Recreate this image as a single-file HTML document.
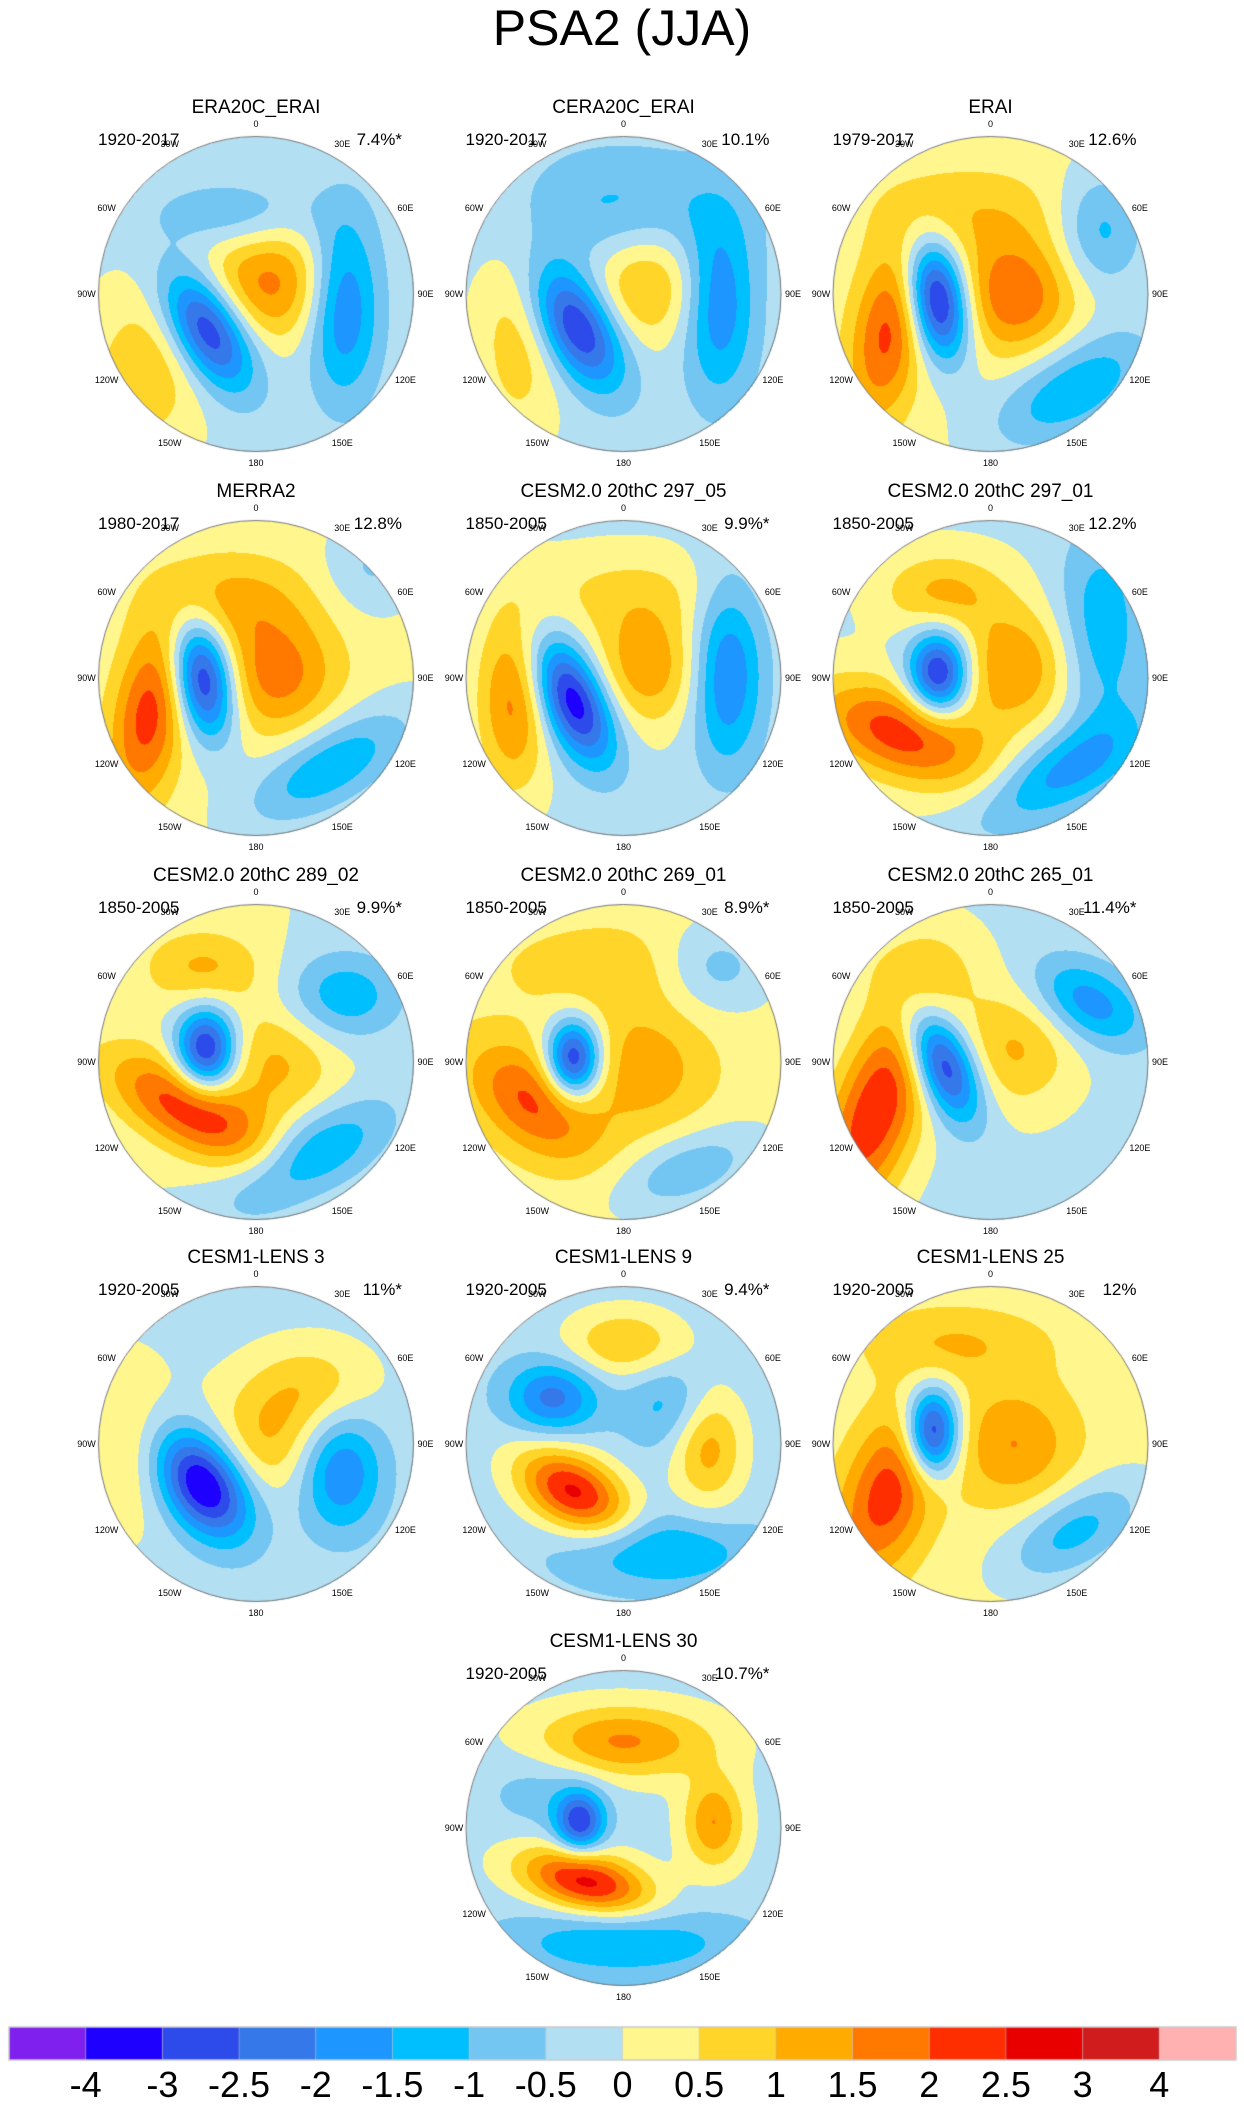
<!DOCTYPE html>
<html><head><meta charset="utf-8">
<style>
html,body{margin:0;padding:0;background:#fff;}
body{width:1244px;height:2107px;position:relative;overflow:hidden;font-family:"Liberation Sans",sans-serif;}
canvas{position:absolute;left:0;top:0;}
.t{position:absolute;white-space:nowrap;color:#000;}
</style></head>
<body>
<canvas id="cv" width="1244" height="2107"></canvas>
<div id="ov"></div>
<script>
// ---- data ----
const panelTitles=["ERA20C_ERAI","CERA20C_ERAI","ERAI","MERRA2","CESM2.0 20thC 297_05","CESM2.0 20thC 297_01","CESM2.0 20thC 289_02","CESM2.0 20thC 269_01","CESM2.0 20thC 265_01","CESM1-LENS 3","CESM1-LENS 9","CESM1-LENS 25","CESM1-LENS 30"];
const panelPeriods=["1920-2017","1920-2017","1979-2017","1980-2017","1850-2005","1850-2005","1850-2005","1850-2005","1850-2005","1920-2005","1920-2005","1920-2005","1920-2005"];
const panelPercent=["7.4%*","10.1%","12.6%","12.8%","9.9%*","12.2%","9.9%*","8.9%*","11.4%*","11%*","9.4%*","12%","10.7%*"];
const panelBase=[-0.15,-0.2,0.15,0.15,-0.15,-0.1,0,0.2,-0.15,-0.2,-0.3,0.2,-0.2];
const blobU=[[-0.32,0.13,0.55,-0.15,-0.6],[-0.3,0.14,0.6,0,-0.66],[-0.34,0.15,-0.65,-0.15,0.53,0.7],[-0.34,0.13,-0.68,-0.17,0.47,0.72],[-0.32,0.15,0.65,-0.7,0],[-0.33,0.15,-0.57,-0.31,0.7,0.45],[-0.32,0.13,-0.42,-0.34,0.55,0.34],[-0.32,0.14,-0.58,0,0.57,0.4],[-0.31,0.15,-0.73,0.62,-0.5],[-0.34,0.53,0.08,0.38,-0.85],[-0.32,-0.45,0,0.53,0.3,0.23],[-0.37,-0.65,0.15,-0.23,0.53],[-0.02,-0.28,-0.24,0.57,0,-0.5]];
const blobV=[[0.21,-0.07,0.06,-0.5,0.35],[0.2,-0.07,0.06,-0.53,0.27],[0.03,0,0.23,-0.53,0.6,-0.4],[0,-0.03,0.22,-0.5,0.56,-0.7],[0.14,-0.07,-0.03,0.13,-0.55],[-0.03,-0.07,0.35,-0.55,-0.3,0.6],[-0.08,0,0.3,-0.6,-0.42,0.6],[-0.02,0.04,0.25,-0.6,-0.6,0.68],[0,-0.08,0.3,-0.38,-0.6],[0.25,0.17,-0.04,-0.38,0],[0.3,-0.3,-0.64,0,-0.25,0.68],[-0.08,0.3,0,-0.64,0.55],[-0.55,-0.04,0.34,-0.04,0.72,-0.25]];
const blobAmp=[[-3.6,1.6,-2.0,-1.1,1.1],[-3.1,1.4,-1.8,-1.0,1.0],[-3.8,1.8,2.0,0.7,-1.6,-1.3],[-3.5,1.6,2.1,1.0,-1.6,-0.7],[-3.4,1.5,-2.0,1.8,0.7],[-3.3,1.6,2.4,1.2,-1.3,-1.6],[-3.3,1.1,2.4,1.1,-1.4,-1.6],[-3.5,1.1,1.9,0.7,-1.2,-1.1],[-3.3,1.2,2.6,-1.7,0.6],[-3.6,-1.9,1.2,0.9,0.8],[2.9,-1.9,1.3,1.6,-1.0,-1.3],[-3.8,2.1,1.3,0.8,-1.4],[1.8,-2.6,2.9,1.7,-1.3,-0.6]];
const blobSx=[[0.12,0.2,0.12,0.25,0.22],[0.12,0.2,0.12,0.35,0.15],[0.1,0.2,0.12,0.3,0.3,0.15],[0.1,0.2,0.12,0.25,0.3,0.15],[0.11,0.2,0.12,0.12,0.35],[0.1,0.2,0.3,0.2,0.15,0.3],[0.1,0.2,0.3,0.2,0.2,0.3],[0.09,0.22,0.25,0.4,0.2,0.25],[0.1,0.2,0.15,0.2,0.25],[0.13,0.14,0.2,0.2,0.2],[0.2,0.15,0.2,0.12,0.15,0.3],[0.09,0.15,0.2,0.3,0.25],[0.3,0.08,0.22,0.1,0.4,0.2]];
const blobSy=[[0.22,0.2,0.3,0.12,0.45],[0.22,0.2,0.3,0.2,0.35],[0.2,0.2,0.3,0.15,0.15,0.2],[0.2,0.2,0.3,0.15,0.13,0.15],[0.22,0.2,0.3,0.3,0.15],[0.14,0.2,0.15,0.13,0.35,0.12],[0.14,0.2,0.13,0.13,0.15,0.13],[0.13,0.22,0.15,0.15,0.15,0.12],[0.2,0.2,0.4,0.12,0.15],[0.2,0.2,0.2,0.15,0.3],[0.12,0.12,0.12,0.2,0.15,0.12],[0.15,0.3,0.2,0.12,0.13],[0.12,0.1,0.1,0.15,0.12,0.15]];
const blobRot=[[-30,0,0,0,30],[-30,0,0,0,0],[-10,0,10,0,-30,0],[-10,0,10,0,-30,0],[-25,0,0,0,0],[0,0,20,0,0,-30],[0,0,30,0,0,-30],[0,0,40,0,0,-20],[-25,0,20,30,0],[-35,0,0,0,0],[30,0,0,0,0,0],[0,20,0,0,-30],[0,0,15,0,0,0]];
const levels=[-4,-3,-2.5,-2,-1.5,-1,-0.5,0,0.5,1,1.5,2,2.5,3,4];
const levelColors=["#8020ee","#1e00ff","#2d4beb","#3578ea","#1e96ff","#00bfff","#74c6f2","#b3dff3","#fff68d","#ffd52a","#ffab00","#ff7800","#ff2e00","#e80000","#d01c1c","#ffb0b0"];
const lonLabels=["0","30E","60E","90E","120E","150E","180","150W","120W","90W","60W","30W"];
// ---- layout ----
const SIG=1.35; // smoothing width factor
const colX=[256,623.5,990.5], rowY=[294,678,1062,1444,1828], R=157.5;
const centers=[];
for(let i=0;i<13;i++){ if(i<12) centers.push([colX[i%3],rowY[Math.floor(i/3)]]); else centers.push([colX[1],rowY[4]]); }
function hex(c){return [parseInt(c.substr(1,2),16),parseInt(c.substr(3,2),16),parseInt(c.substr(5,2),16)];}
const rgb=levelColors.map(hex);
function idx(v){let k=0;while(k<levels.length&&v>=levels[k])k++;return k;}
const cv=document.getElementById('cv'),ctx=cv.getContext('2d');
ctx.fillStyle='#fff';ctx.fillRect(0,0,1244,2107);
const img=ctx.getImageData(0,0,1244,2107),d=img.data;
for(let p=0;p<13;p++){
  const [cx,cy]=centers[p];
  const bs=blobU[p].map((u,j)=>{const a=blobRot[p][j]*Math.PI/180;return {u,v:blobV[p][j],A:blobAmp[p][j],sx:blobSx[p][j]*SIG,sy:blobSy[p][j]*SIG,c:Math.cos(a),s:Math.sin(a)};});
  for(let y=Math.floor(cy-R);y<=Math.ceil(cy+R);y++)for(let x=Math.floor(cx-R);x<=Math.ceil(cx+R);x++){
    const u=(x-cx)/R,v=(y-cy)/R; if(u*u+v*v>1)continue;
    let f=panelBase[p];
    for(const b of bs){const dx=u-b.u,dy=v-b.v;const a=dx*b.c+dy*b.s,q=-dx*b.s+dy*b.c;f+=b.A*Math.exp(-0.5*(a*a/(b.sx*b.sx)+q*q/(b.sy*b.sy)));}
    const c=rgb[idx(f)],o=(y*1244+x)*4;d[o]=c[0];d[o+1]=c[1];d[o+2]=c[2];d[o+3]=255;
  }
}
ctx.putImageData(img,0,0);
ctx.strokeStyle='#777';ctx.lineWidth=1;
centers.forEach(([cx,cy])=>{ctx.beginPath();ctx.arc(cx,cy,R,0,Math.PI*2);ctx.stroke();});
// colorbar
const cbX0=9,cbX1=1236,cbY=2027,cbH=33,cw=(cbX1-cbX0)/levelColors.length;
levelColors.forEach((c,i)=>{ctx.fillStyle=c;ctx.fillRect(cbX0+i*cw,cbY,cw,cbH);});
ctx.strokeStyle='#ccc';ctx.lineWidth=1.5;ctx.strokeRect(cbX0,cbY,cbX1-cbX0,cbH);
ctx.strokeStyle='#bbb';ctx.lineWidth=0.5;
for(let i=1;i<levelColors.length;i++){ctx.beginPath();ctx.moveTo(cbX0+i*cw,cbY);ctx.lineTo(cbX0+i*cw,cbY+cbH);ctx.stroke();}
// ---- text ----
const ov=document.getElementById('ov');
function txt(s,x,y,size,align,name){const e=document.createElement('div');e.className='t';e.textContent=s;e.style.fontSize=size+'px';e.style.top=(y-size*0.58)+'px';
  if(align==='c'){e.style.left=(x-300)+'px';e.style.width='600px';e.style.textAlign='center';}
  else if(align==='r'){e.style.right=(1244-x)+'px';} else e.style.left=x+'px';
  
  
  ov.appendChild(e);return e;}
txt("PSA2 (JJA)",622,28,50,'c','figure-title');
for(let p=0;p<13;p++){
  const [cx,cy]=centers[p];
  txt(panelTitles[p],cx,cy-186,19,'c','panel-title');
  txt(panelPeriods[p],cx-158,cy-154,17,'l','panel-period');
  txt(panelPercent[p],cx+146,cy-154,17,'r','panel-variance');
  lonLabels.forEach((l,k)=>{const a=k*30*Math.PI/180,rr=R+(k%3===0?12:15);
    txt(l,cx+rr*Math.sin(a),cy-rr*Math.cos(a),9,'c','lon-label');});
}
levels.forEach((l,i)=>{txt(String(l),cbX0+(i+1)*cw,2085,36,'c','colorbar-tick');});
</script>
</body></html>
